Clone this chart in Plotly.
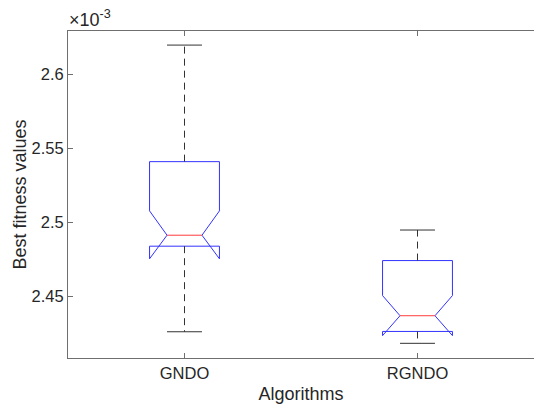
import plotly.graph_objects as go

# Summary statistics of best fitness per algorithm (values in units of 1e-3)
algorithms = ["GNDO", "RGNDO"]
positions = [1, 2]
upper_whisker = [2.6195, 2.4948]
q3 = [2.5409, 2.4742]
median = [2.4913, 2.4370]
q1 = [2.4839, 2.4264]
lower_whisker = [2.4262, 2.4184]
notch_low = [2.4754, 2.4236]
notch_high = [2.5077, 2.4506]

y_ticks = [2.45, 2.5, 2.55, 2.6]
y_tick_labels = ["2.45", "2.5", "2.55", "2.6"]
y_range = [2.4085, 2.6290]

BOX_HALF = 0.15         # half box width, x-axis units
INNER_HALF = 0.075      # half width at the notch waist / whisker caps
FONT = "Liberation Sans, Arial, sans-serif"
TXT = "#262626"
AX = "#6f6f6f"
BLUE = "rgb(50,50,255)"
RED = "rgb(255,60,60)"
WHISK = "rgb(50,50,50)"

fig = go.Figure()

for i, name in enumerate(algorithms):
    p = positions[i]
    L, R = p - BOX_HALF, p + BOX_HALF
    l, r = p - INNER_HALF, p + INNER_HALF
    # notched box outline
    fig.add_trace(go.Scatter(
        x=[L, L, l, L, L, R, R, r, R, R, L],
        y=[q1[i], notch_low[i], median[i], notch_high[i], q3[i],
           q3[i], notch_high[i], median[i], notch_low[i], q1[i], q1[i]],
        mode="lines", line=dict(color=BLUE, width=1),
        hoverinfo="skip", showlegend=False, name=name,
    ))
    # dashed whiskers
    fig.add_trace(go.Scatter(
        x=[p, p, None, p, p],
        y=[q3[i], upper_whisker[i], None, q1[i], lower_whisker[i]],
        mode="lines", line=dict(color=WHISK, width=1, dash="7px,5px"),
        hoverinfo="skip", showlegend=False,
    ))
    # whisker caps
    fig.add_trace(go.Scatter(
        x=[l, r, None, l, r],
        y=[upper_whisker[i], upper_whisker[i], None, lower_whisker[i], lower_whisker[i]],
        mode="lines", line=dict(color=WHISK, width=1),
        hoverinfo="skip", showlegend=False,
    ))
    # median
    fig.add_trace(go.Scatter(
        x=[l, r], y=[median[i], median[i]],
        mode="lines", line=dict(color=RED, width=1),
        hoverinfo="skip", showlegend=False,
    ))

fig.update_layout(
    width=534, height=408,
    margin=dict(l=68, r=0, t=31, b=50),
    paper_bgcolor="white", plot_bgcolor="white",
    font=dict(family=FONT, size=16.5, color=TXT),
    xaxis=dict(
        range=[0.5, 2.5], tickmode="array", tickvals=positions, ticktext=algorithms,
        ticks="inside", ticklen=5, tickcolor=AX, showline=True, linecolor=AX,
        linewidth=1, mirror="ticks", showgrid=False, zeroline=False,
        title=dict(text="Algorithms", font=dict(size=18, color=TXT), standoff=6),
    ),
    yaxis=dict(
        range=y_range, tickmode="array", tickvals=y_ticks, ticktext=y_tick_labels,
        ticks="inside", ticklen=5, tickcolor=AX, showline=True, linecolor=AX,
        linewidth=1, mirror=False, showgrid=False, zeroline=False,
        title=dict(text="Best fitness values", font=dict(size=18, color=TXT), standoff=0),
    ),
    # right-hand tick marks only (the right border falls at the page edge)
    yaxis2=dict(
        overlaying="y", side="right", anchor="x", range=y_range,
        tickmode="array", tickvals=y_ticks, ticks="inside", ticklen=5,
        tickcolor=AX, showticklabels=False, showline=False, showgrid=False,
        zeroline=False,
    ),
    annotations=[dict(
        text="×10<sup>-3</sup>", xref="paper", yref="paper", x=0, y=1,
        xanchor="left", yanchor="bottom", showarrow=False, xshift=-1, yshift=-1,
        font=dict(size=18, color=TXT),
    )],
)

fig.write_html("out.html")
